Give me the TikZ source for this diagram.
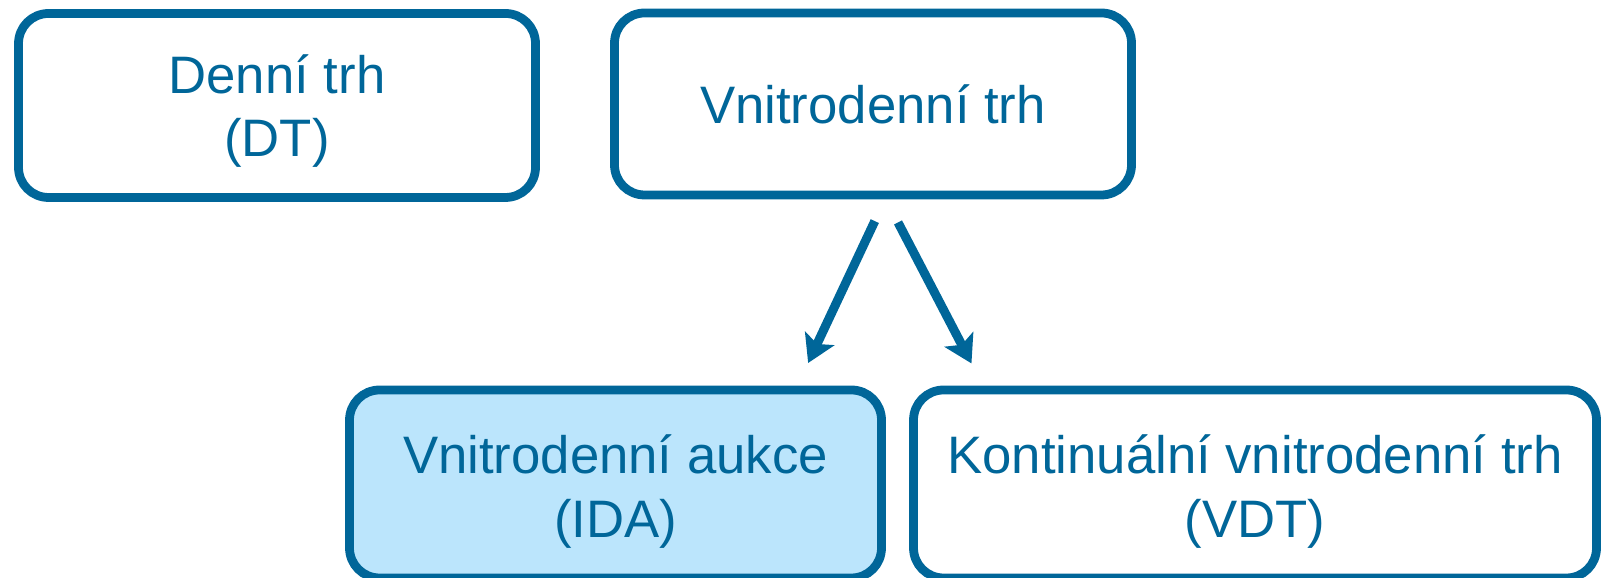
\documentclass[tikz,border=0pt]{standalone}
\usepackage{fontspec}
\setmainfont{Liberation Sans}
\usetikzlibrary{arrows.meta}
\definecolor{trhblue}{RGB}{0,102,153}
\definecolor{trhfill}{RGB}{187,229,252}
\newcommand{\lift}[1]{\rule{0pt}{#1}}

\begin{document}
\begin{tikzpicture}[>=Stealth,x=0.1mm,y=-0.1mm]
\tikzstyle{box}=[draw=trhblue,line width=2.5pt,rounded corners=3mm,text=trhblue,align=center,font=\fontsize{15}{18}\selectfont,inner sep=0pt]%
\tikzstyle{link}=[trhblue,line width=0.9mm,-{Stealth[length=2.7mm,width=3.2mm,inset=0.6mm]}]%
\useasboundingbox (0,0) rectangle (1603,578);
% upper row
\node[box,minimum width=51.7mm,minimum height=18.4mm] (dt) at (277,105.5) {\lift{5mm}Denní trh\\(DT)};
\node[box,minimum width=51.7mm,minimum height=18.2mm] (vtrh) at (873,104) {Vnitrodenní trh};
% lower row
\node[box,fill=trhfill,minimum width=53.2mm,minimum height=18.8mm] (ida) at (615.5,484) {\lift{5.4mm}Vnitrodenní aukce\\(IDA)};
\node[box,minimum width=68.3mm,minimum height=18.8mm] (vdt) at (1255,484) {\lift{5.4mm}Kontinuální vnitrodenní trh\\(VDT)};
% arrows
\draw[link,shorten <=2.4mm,shorten >=2.5mm] ([xshift=1.2mm]vtrh.south) -- ([xshift=18.2mm]ida.north);
\draw[link,shorten <=2.6mm,shorten >=2.5mm] ([xshift=1.3mm]vtrh.south) -- ([xshift=-27.2mm]vdt.north);
\end{tikzpicture}
\end{document}
